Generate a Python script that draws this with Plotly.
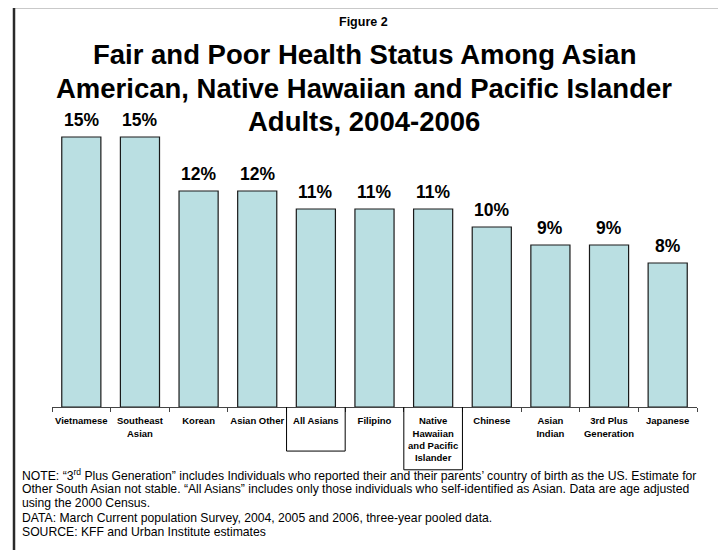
import plotly.graph_objects as go

categories = ["Vietnamese", "Southeast<br>Asian", "Korean", "Asian Other", "All Asians",
              "Filipino", "Native<br>Hawaiian<br>and Pacific<br>Islander", "Chinese",
              "Asian<br>Indian", "3rd Plus<br>Generation", "Japanese"]
values = [15, 15, 12, 12, 11, 11, 11, 10, 9, 9, 8]
boxed = {"All Asians": 0.153, "Native<br>Hawaiian<br>and Pacific<br>Islander": 0.218}

FONT = "Liberation Sans, Arial, sans-serif"
W, H = 726, 550
OFF = 8  # page body margin offset
# screen-pixel geometry of plot area
SX0, SX1, SY_TOP, SY_BASE = 52, 697, 119, 407
ML = SX0 - OFF
MR = W - (SX1 - OFF)
MT = SY_TOP - OFF
MB = H - (SY_BASE - OFF)
PW = SX1 - SX0
PH = SY_BASE - SY_TOP

def px_x(p):
    return (p - SX0) / PW

def px_y(p):
    return (SY_BASE - p) / PH

fig = go.Figure()
fig.add_trace(go.Bar(
    x=categories, y=values,
    marker=dict(color="#BADFE2", line=dict(color="#1a1a1a", width=1.2)),
    hoverinfo="skip",
))

annotations = []
for c, v in zip(categories, values):
    annotations.append(dict(x=c, y=v, xref="x", yref="y", text=f"<b>{v}%</b>",
                            showarrow=False, yanchor="bottom", yshift=5,
                            font=dict(family=FONT, size=17.5, color="black")))

title_x = px_x(364)
annotations.append(dict(x=px_x(363), y=px_y(22), xref="paper", yref="paper",
                        text="<b>Figure 2</b>", showarrow=False, yanchor="middle",
                        font=dict(family=FONT, size=12.5, color="black")))
for txt, yc in [("Fair and Poor Health Status Among Asian", 55),
                ("American, Native Hawaiian and Pacific Islander", 88),
                ("Adults, 2004-2006", 121)]:
    annotations.append(dict(x=title_x, y=px_y(yc), xref="paper", yref="paper",
                            text=f"<b>{txt}</b>", showarrow=False, yanchor="middle",
                            font=dict(family=FONT, size=27.5, color="black")))

notes = [
    ("NOTE: \u201c3<sup>rd</sup> Plus Generation\u201d includes Individuals who reported their and their parents\u2019 country of birth as the US. Estimate for", 475),
    ("Other South Asian not stable. \u201cAll Asians\u201d includes only those individuals who self-identified as Asian. Data are age adjusted", 489),
    ("using the 2000 Census.", 503),
    ("DATA: March Current population Survey, 2004, 2005 and 2006, three-year pooled data.", 518),
    ("SOURCE: KFF and Urban Institute estimates", 532),
]
for txt, yc in notes:
    annotations.append(dict(x=px_x(20), y=px_y(yc), xref="paper", yref="paper",
                            text=txt, showarrow=False, xanchor="left", yanchor="middle",
                            font=dict(family=FONT, size=12.2, color="black")))

shapes = [dict(type="rect", xref="paper", yref="paper",
               x0=px_x(14), x1=px_x(721), y0=px_y(556), y1=px_y(7),
               line=dict(color="#2a2a2a", width=2.5))]
for i, c in enumerate(categories):
    if c in boxed:
        depth = boxed[c]
        shapes.append(dict(type="path", xref="x", yref="paper",
                           path=f"M {i-0.5},0 L {i-0.5},{-depth} L {i+0.5},{-depth} L {i+0.5},0",
                           line=dict(color="black", width=1)))

fig.update_layout(
    width=W, height=H,
    margin=dict(l=ML, r=MR, t=MT, b=MB, autoexpand=False),
    paper_bgcolor="white", plot_bgcolor="white",
    bargap=0.333,
    showlegend=False,
    annotations=annotations,
    shapes=shapes,
    xaxis=dict(showline=True, linecolor="#444", linewidth=1, ticks="outside",
               tickson="boundaries", ticklen=4, tickcolor="#444", tickangle=0,
               automargin=False, ticklabelstandoff=5,
               tickfont=dict(family=FONT, size=9.5, color="black", weight="bold"),
               showgrid=False, zeroline=False),
    yaxis=dict(range=[0, 16], visible=False, showgrid=False, zeroline=False,
               automargin=False),
)

fig.write_html("out.html")
